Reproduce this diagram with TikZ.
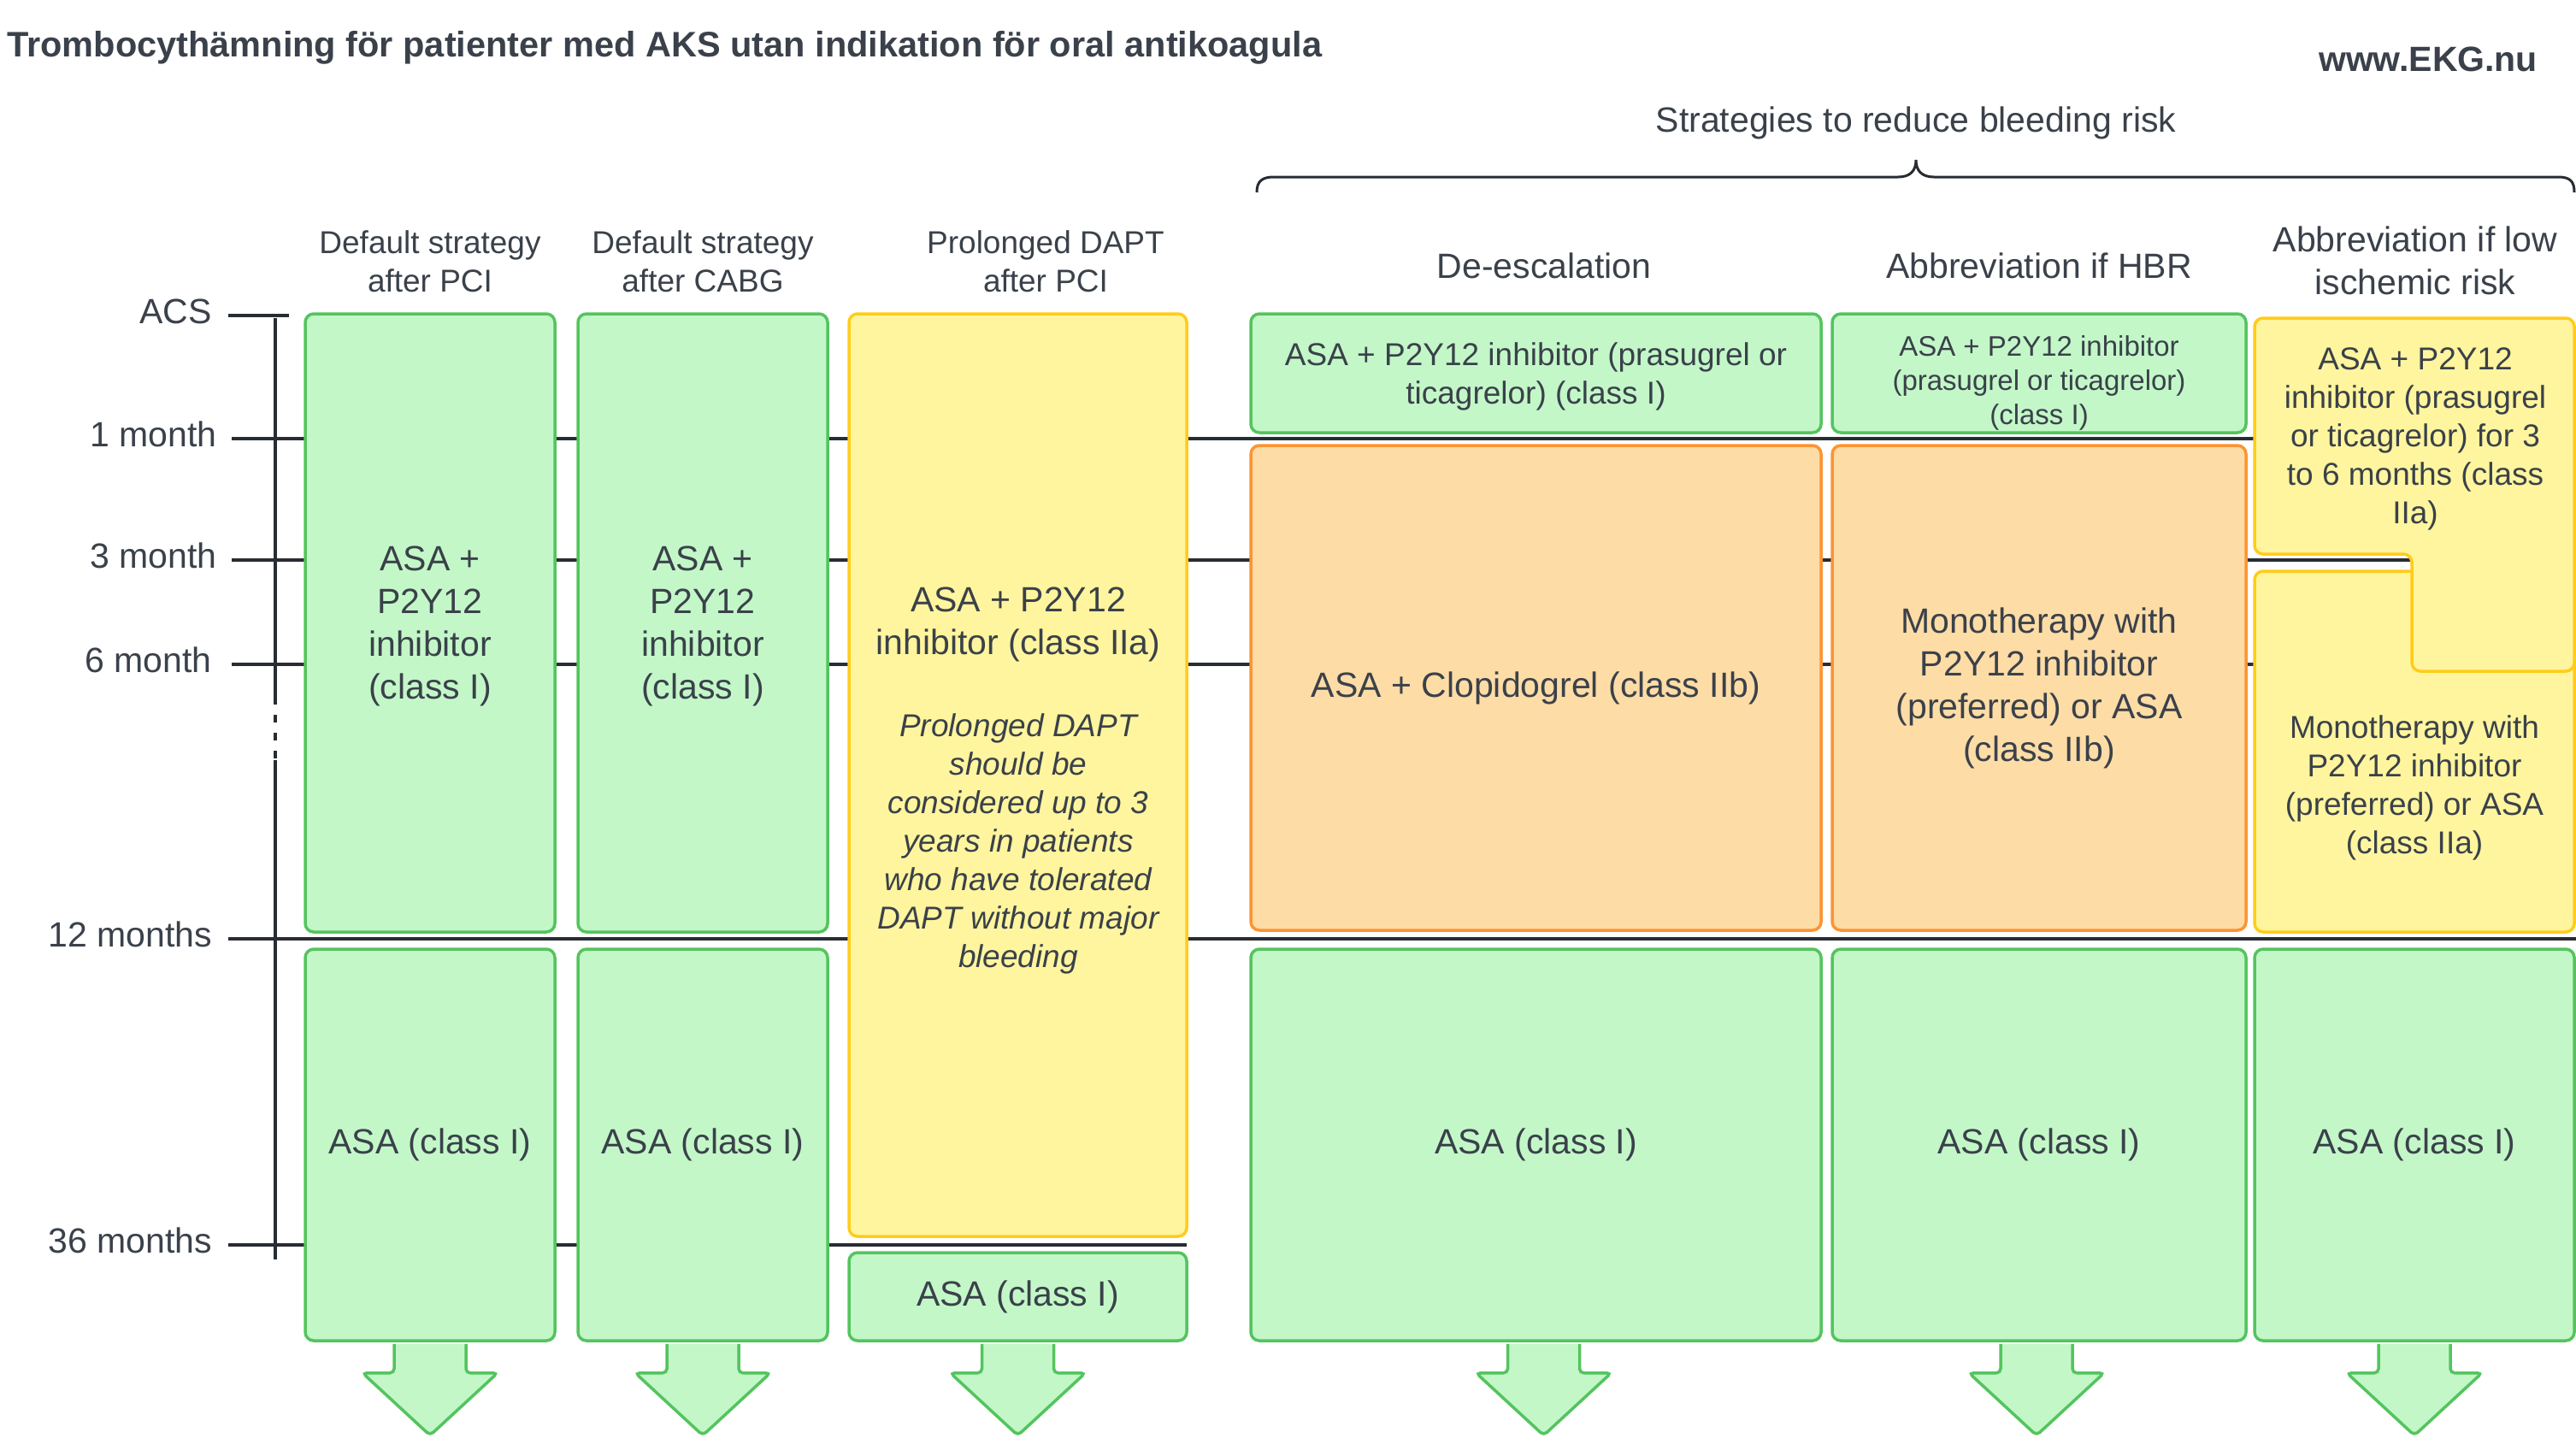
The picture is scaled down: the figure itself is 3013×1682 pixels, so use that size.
\documentclass[tikz,border=0pt]{standalone}
\usepackage{fontspec}
\setmainfont{Liberation Sans}
\usetikzlibrary{calc}
\definecolor{txt}{HTML}{3A414A}
\definecolor{axiscol}{HTML}{282C33}
\definecolor{gfill}{HTML}{C3F7C8}
\definecolor{gline}{HTML}{54C45E}
\definecolor{yfill}{HTML}{FFF59E}
\definecolor{yline}{HTML}{FFCC1A}
\definecolor{ofill}{HTML}{FDDCA6}
\definecolor{oline}{HTML}{FC9433}
\tikzset{
 box/.style={draw, line width=3.5, rounded corners=10, inner sep=0, align=center, text=txt},
 gbox/.style={box, fill=gfill, draw=gline},
 ybox/.style={box, fill=yfill, draw=yline},
 obox/.style={box, fill=ofill, draw=oline},
 arrw/.style={fill=gfill, draw=gline, line width=3.5, rounded corners=5},
 axisline/.style={draw=axiscol, line width=3.5},
 big/.style={font=\fontsize{41}{50}\selectfont},
 mid/.style={font=\fontsize{37}{45}\selectfont},
 sml/.style={font=\fontsize{33}{40}\selectfont},
 lbl/.style={text=txt, inner sep=0, align=center},
 ticklbl/.style={text=txt, inner sep=0, anchor=base east, font=\fontsize{41}{50}\selectfont},
}
\newcommand\downshape[2]{%
 \draw[arrw] ($(#1.south)+(#2-42,2)$) -- ($(#1.south)+(#2-42,36)$) -- ($(#1.south)+(#2-79,36)$) -- ($(#1.south)+(#2,109)$) -- ($(#1.south)+(#2+79,36)$) -- ($(#1.south)+(#2+42,36)$) -- ($(#1.south)+(#2+42,2)$);}
\begin{document}
\begin{tikzpicture}[x=1pt,y=-1pt]
\useasboundingbox (0,0) rectangle (3013,1682);

% title
\node[lbl, anchor=west, font=\fontsize{41.5}{50}\selectfont\bfseries] (title) at (8,56) {Trombocythämning för patienter med AKS utan indikation för oral antikoagula};
\node[lbl, font=\fontsize{41}{50}\selectfont\bfseries] (www) at (2840,69) {www.EKG.nu};

% brace
\node[lbl, big] (strat) at (2241,144) {Strategies to reduce bleeding risk};
\draw[axisline, line width=3] (1470,225) .. controls (1470,212) and (1476,207) .. (1490,207) -- (2220,207) .. controls (2234,207) and (2241,200) .. (2241,187) .. controls (2241,200) and (2248,207) .. (2262,207) -- (2992,207) .. controls (3006,207) and (3011,212) .. (3011,225);

% headers
\node[lbl, mid] (h1) at (503,306) {Default strategy\\after PCI};
\node[lbl, mid] (h2) at (822,306) {Default strategy\\after CABG};
\node[lbl, mid] (h3) at (1223,306) {Prolonged DAPT\\after PCI};
\node[lbl, big] (h4) at (1806,311) {De-escalation};
\node[lbl, big] (h5) at (2385,311) {Abbreviation if HBR};
\node[lbl, big] (h6) at (2825,305) {Abbreviation if low\\ischemic risk};

% time axis
\draw[axisline] (322,372) -- (322,815);
\draw[axisline, dash pattern=on 9 off 12] (322,815) -- (322,889);
\draw[axisline] (322,889) -- (322,1473);
\draw[axisline] (267,369) -- (338,369);
\draw[axisline] (271,513) -- (3013,513);
\draw[axisline] (271,655) -- (3013,655);
\draw[axisline] (271,777) -- (3013,777);
\draw[axisline] (267,1098) -- (3013,1098);
\draw[axisline] (267,1456) -- (1388,1456);
\node[ticklbl] (tACS) at (248,378) {ACS};
\node[ticklbl] (t1) at (254,522) {1 month};
\node[ticklbl] (t3) at (254,664) {3 month};
\node[ticklbl] (t6) at (248,786) {6 month};
\node[ticklbl] (t12) at (248,1107) {12 months};
\node[ticklbl] (t36) at (248,1465) {36 months};

% column 1
\node[gbox, minimum width=292, minimum height=723] (c1a) at (503,728.5) {};
\node[lbl, big] (c1at) at (503,732) {ASA +\\P2Y12\\inhibitor\\(class I)};
\node[gbox, big, minimum width=292, minimum height=458] (c1b) at (503,1339) {ASA (class I)};
\downshape{c1b}{0}
% column 2
\node[gbox, minimum width=292, minimum height=723] (c2a) at (822,728.5) {};
\node[lbl, big] (c2at) at (822,732) {ASA +\\P2Y12\\inhibitor\\(class I)};
\node[gbox, big, minimum width=292, minimum height=458] (c2b) at (822,1339) {ASA (class I)};
\downshape{c2b}{0}
% column 3
\node[ybox, minimum width=395, minimum height=1079] (c3a) at (1190.5,906.5) {};
\node[lbl, big] (c3t) at (1191,730) {ASA + P2Y12\\inhibitor (class IIa)};
\node[lbl, font=\fontsize{37}{45}\selectfont\itshape] (c3i) at (1191,987) {Prolonged DAPT\\should be\\considered up to 3\\years in patients\\who have tolerated\\DAPT without major\\bleeding};
\node[gbox, big, minimum width=395, minimum height=103] (c3b) at (1190.5,1516.5) {ASA (class I)};
\downshape{c3b}{0}
% column 4
\node[gbox, minimum width=667, minimum height=139] (c4a) at (1796.5,436.5) {};
\node[lbl, mid] (c4at) at (1796.5,440) {ASA + P2Y12 inhibitor (prasugrel or\\ticagrelor) (class I)};
\node[obox, big, minimum width=667, minimum height=567] (c4b) at (1796.5,804.5) {ASA + Clopidogrel (class IIb)};
\node[gbox, big, minimum width=667, minimum height=458] (c4c) at (1796.5,1339) {ASA (class I)};
\downshape{c4c}{9}
% column 5
\node[gbox, minimum width=484, minimum height=139] (c5a) at (2385,436.5) {};
\node[lbl, sml] (c5at) at (2385,448) {ASA + P2Y12 inhibitor\\(prasugrel or ticagrelor)\\(class I)};
\node[obox, big, minimum width=484, minimum height=567] (c5b) at (2385,804.5) {Monotherapy with\\P2Y12 inhibitor\\(preferred) or ASA\\(class IIb)};
\node[gbox, big, minimum width=484, minimum height=458] (c5c) at (2385,1339) {ASA (class I)};
\downshape{c5c}{-3}
% column 6
\node[ybox, minimum width=374, minimum height=422] (c6b) at (2824,879) {};
\node[lbl, mid] (c6bt) at (2824,921) {Monotherapy with\\P2Y12 inhibitor\\(preferred) or ASA\\(class IIa)};
\draw[fill=yfill, draw=yline, line width=3.5, rounded corners=10] (2637,372) -- (3011,372) -- (3011,785) -- (2821,785) -- (2821,648) -- (2637,648) -- cycle;
\node[lbl, mid] (c6a) at (2825,513) {ASA + P2Y12\\inhibitor (prasugrel\\or ticagrelor) for 3\\to 6 months (class\\IIa)};
\node[gbox, big, minimum width=374, minimum height=458] (c6c) at (2824,1339) {ASA (class I)};
\downshape{c6c}{0}
\end{tikzpicture}
\end{document}
